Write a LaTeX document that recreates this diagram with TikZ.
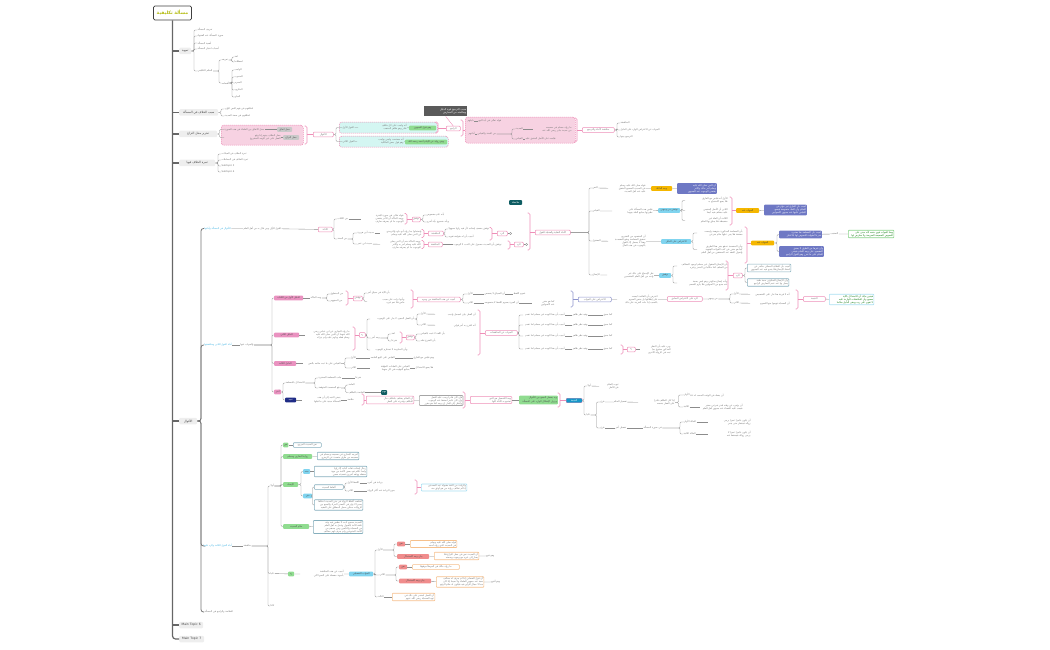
\documentclass[tikz,border=0pt]{standalone}
\usepackage{fontspec}
\setmainfont{DejaVu Sans}
\newfontfamily\arabicfont[Script=Arabic]{DejaVu Sans}
\TeXXeTstate=1
\newcommand\ar[1]{\beginR#1\endR}

\definecolor{pinkl}{HTML}{EE8FB8}
\definecolor{pinkf}{HTML}{EA92C0}
\definecolor{pinkg}{HTML}{F7D2E2}
\definecolor{cyang}{HTML}{D4F6F2}
\definecolor{orgc}{HTML}{F5B700}
\definecolor{purc}{HTML}{6E78C4}
\definecolor{purl}{HTML}{8E94CC}
\definecolor{cyanc}{HTML}{80D4EF}
\definecolor{tealc}{HTML}{86AFBD}
\definecolor{greenc}{HTML}{90DC90}
\definecolor{redc}{HTML}{F08C8C}
\definecolor{orbc}{HTML}{F6C08C}
\definecolor{lcbc}{HTML}{A9DFF2}
\definecolor{gnbc}{HTML}{8CD48C}
\definecolor{dtlc}{HTML}{0E5C62}
\definecolor{navc}{HTML}{1F2C86}
\definecolor{bluec}{HTML}{1597C8}
\definecolor{callc}{HTML}{5A5A5A}
\definecolor{greyc}{HTML}{EEEEEE}
\definecolor{gryc}{HTML}{C9C9C9}
\definecolor{cytext}{HTML}{3AB0E2}
\definecolor{rootc}{HTML}{B4BC12}

% grey bracket from a parent to its children
\newcommand\brtree[3]{%
  \coordinate (brx) at (#2,0);
  \foreach \ch in {#3}{\draw[ln] (#1.east) -- (#1.east -| brx) |- (\ch.west);}}
% coloured group bracket pointing at one node
\newcommand\pkbr[5][pinkl]{%
  \coordinate (brx) at (#2,0);
  \draw[gb, draw=#1] ({#2-2.5},#3) -| ({#2},{(#3+#4)/2}) |- ({#2-2.5},#4);
  \draw[gb, draw=#1] (#5.west -| brx) -- (#5.west);}

\begin{document}
\begin{tikzpicture}[x=1pt, y=-1pt,
  tx/.style={anchor=west, inner sep=0.4pt, align=right, text=black!55,
             font=\arabicfont\fontsize{2.4}{3}\selectfont},
  bx/.style={tx, inner sep=0.8pt, rounded corners=0.8pt, minimum height=4.6pt, align=center},
  topic/.style={anchor=west, fill=greyc, rounded corners=1.2pt, inner sep=1pt,
                minimum height=6.5pt, text=black!75, font=\arabicfont\fontsize{3}{3.6}\selectfont},
  root/.style={draw=black!75, line width=0.8pt, fill=white, rounded corners=1.5pt,
               minimum width=33pt, minimum height=14pt, text=rootc,
               font=\arabicfont\bfseries\fontsize{4.6}{5}\selectfont},
  pkn/.style={bx, draw=pinkl, line width=0.5pt, fill=white},
  pkf/.style={bx, fill=pinkf, text=black!70},
  org/.style={bx, fill=orgc, text=black!75},
  pur/.style={bx, fill=purc, text=white, align=right},
  purn/.style={bx, draw=purl, line width=0.5pt, fill=white},
  cyb/.style={bx, fill=cyanc, text=black!70},
  tlb/.style={bx, draw=tealc, line width=0.6pt, fill=white, align=right},
  grb/.style={bx, fill=greenc, text=black!70},
  rdb/.style={bx, fill=redc, text=black!70},
  orb/.style={bx, draw=orbc, line width=0.6pt, fill=white, align=right},
  lcb/.style={bx, draw=lcbc, line width=0.6pt, fill=white, align=right},
  gnb/.style={bx, draw=gnbc, line width=0.6pt, fill=white, align=right, text=green!45!black},
  gyb/.style={bx, draw=black!35, line width=0.7pt, fill=white, align=right},
  dtl/.style={bx, fill=dtlc, text=white},
  nav/.style={bx, fill=navc, text=white},
  blu/.style={bx, fill=bluec, draw=pinkl, line width=0.3pt, text=white},
  gry/.style={bx, fill=gryc, text=black!70},
  call/.style={anchor=north west, fill=callc, text=white, inner sep=1pt, align=right,
               font=\arabicfont\fontsize{2.6}{3.2}\selectfont},
  grp/.style={draw=pinkl, dash pattern=on 1.2pt off 0.8pt, line width=0.5pt,
              rounded corners=2.5pt, anchor=north west, inner sep=0pt},
  dot/.style={circle, draw=black!45, line width=0.3pt, inner sep=0pt, minimum size=2.4pt},
  ln/.style={draw=black!45, line width=0.35pt, rounded corners=1.2pt},
  gb/.style={line width=0.6pt, rounded corners=1.5pt},
  sub/.style={draw=black!55, line width=0.8pt, rounded corners=2.5pt},
  spine/.style={draw=black!60, line width=1.2pt, rounded corners=3pt}
]
\useasboundingbox (0,0) rectangle (1050,650);

% root and main topics
\node[root] (root) at (172.5,13) {\ar{مسألة تكليفية}};
\node[topic, minimum width=12pt] (t1) at (179,51) {\ar{تمهيد}};
\node[topic, minimum width=39pt] (t2) at (179,112.5) {\ar{سبب الخلاف في المسألة}};
\node[topic, minimum width=38pt] (t3) at (179,134) {\ar{تحرير محل النزاع}};
\node[topic, minimum width=36pt] (t4) at (179,163) {\ar{ثمرة الخلاف فيها}};
\node[topic, minimum width=18pt] (t5) at (179,421) {\ar{الأقوال}};
\node[topic, minimum width=24pt] (t6) at (179,625) {Main Topic 6};
\node[topic, minimum width=25pt] (t7) at (179,639) {Main Topic 7};
\draw[spine] (root.south) |- (t7.west);
\foreach \t in {t1,t2,t3,t4,t5,t6}
  \draw[spine] (\t.west -| root.south) -- (\t.west);

% topic 1
\node[tx] (t1a) at (197,30) {\ar{تعريف المسألة}};
\node[tx] (t1b) at (197,36) {\ar{صورة المسألة عند الفقهاء}};
\node[tx] (t1c) at (197,43) {\ar{أهمية المسألة}};
\node[tx] (t1d) at (197,49) {\ar{أسباب اختيار المسألة}};
\node[tx] (t1e) at (197,71) {\ar{الحكم التكليفي}};
\brtree{t1}{194}{t1a,t1b,t1c,t1d,t1e}
\node[tx] (t1f) at (221,60) {\ar{تعريفه}};
\node[tx] (t1g) at (221,83) {\ar{أقسامه}};
\brtree{t1e}{219}{t1f,t1g}
\node[tx] (t1h) at (234,57) {\ar{لغة}};
\node[tx] (t1i) at (234,62) {\ar{اصطلاحا}};
\brtree{t1f}{232}{t1h,t1i}
\node[tx] (t1j) at (234,70) {\ar{الواجب}};
\node[tx] (t1k) at (234,77) {\ar{المندوب}};
\node[tx] (t1l) at (234,83) {\ar{المحرم}};
\node[tx] (t1m) at (234,90) {\ar{المكروه}};
\node[tx] (t1n) at (234,97) {\ar{المباح}};
\brtree{t1g}{232}{t1j,t1k,t1l,t1m,t1n}

% topic 2
\node[tx] (t2a) at (224,109) {\ar{اختلافهم في فهم النص الوارد}};
\node[tx] (t2b) at (224,116) {\ar{اختلافهم في صحة الحديث}};
\brtree{t2}{221}{t2a,t2b}

% topic 3
\node[grp, fill=pinkg, minimum width=82pt, minimum height=20pt] (g3) at (221,125) {};
\node[tx] (t3a) at (224,129.5) {\ar{محل الاتفاق بين العلماء في هذه الصورة}};
\node[tx, text width=56pt] (t3b) at (224,137.5) {\ar{محل الخلاف بينهم إذا وقع الفعل على غير الوجه المشروع}};
\node[gry, minimum width=15pt] (t3c) at (277,129.5) {\ar{محل اتفاق}};
\node[gry, minimum width=16pt] (t3d) at (283,137.5) {\ar{محل النزاع}};
\brtree{t3}{219.5}{t3a,t3b}
\draw[ln] (t3a) -- (t3c);
\draw[ln] (t3b) -- (t3d);
\node[pkn, minimum width=20pt] (n3a) at (313,134.5) {\ar{الأقوال}};
\pkbr{307}{126}{144}{n3a}
\node[grp, fill=cyang, minimum width=98pt, minimum height=11pt] (g3a) at (339,122) {};
\node[grp, fill=cyang, minimum width=109pt, minimum height=11pt] (g3b) at (339,136) {};
\node[tx] (n3b1) at (342,127.5) {\ar{القول الأول}};
\node[tx, text width=48pt] (n3b2) at (358,127.5) {\ar{أنه واجب على كل مكلف قادر وهو ظاهر المذهب}};
\node[grb, minimum width=27pt] (n3b3) at (409,128) {\ar{وهو قول الجمهور}};
\node[tx] (n3c1) at (342,141.5) {\ar{القول الثاني}};
\node[tx, text width=46pt] (n3c2) at (357,141.5) {\ar{أنه مستحب وليس بواجب وهو قول بعض المالكية}};
\node[grb, minimum width=42pt] (n3c3) at (405,142) {\ar{وهو رواية عن الإمام أحمد رحمه الله}};
\brtree{n3a}{336}{n3b1,n3c1}
\draw[ln] (n3b1) -- (n3b2) -- (n3b3);
\draw[ln] (n3c1) -- (n3c2) -- (n3c3);
\node[pkn, minimum width=14pt] (n3d) at (446,128.5) {\ar{الراجح}};
\pkbr{438}{122}{133}{n3d}
\node[call, minimum width=43pt, minimum height=10pt, text width=41pt] (cl) at (424,106)
  {\ar{سبب الترجيح قوة الدليل}\\\ar{وسلامته من المعارض}};
\draw[gb, draw=pinkl, line width=0.4pt] (cl.south) -- (n3d.north);
\node[grp, fill=pinkg, minimum width=110pt, minimum height=26pt] (g3c) at (465,117) {};
\pkbr{463}{120}{136}{g3c}
\node[tx] (n3e1) at (467,121) {\ar{دليلهم}};
\node[tx] (n3e2) at (478,121) {\ar{قوله تعالى في آية البيع}};
\node[tx] (n3f1) at (468,134) {\ar{أدلتهم}};
\node[tx] (n3f2) at (477,134) {\ar{من السنة والقياس}};
\node[tx] (n3g1) at (515,129) {\ar{الحديث}};
\node[tx, text width=38pt] (n3g2) at (533,129) {\ar{ما رواه مسلم في صحيحه من حديث جابر رضي الله عنه}};
\node[tx] (n3h1) at (515,139) {\ar{القياس}};
\node[tx] (n3h2) at (525,139) {\ar{قياسه على الأصل المتفق عليه}};
\draw[ln] (n3e1) -- (n3e2);
\draw[ln] (n3f1) -- (n3f2);
\brtree{n3f2}{512}{n3g1,n3h1}
\draw[ln] (n3g1) -- (n3g2);
\draw[ln] (n3h1) -- (n3h2);
\node[pkn, minimum width=32pt] (n3i) at (582,130) {\ar{مناقشة الأدلة والترجيح}};
\pkbr{577}{118}{142}{n3i}
\node[tx] (n3j) at (620,123) {\ar{المناقشة}};
\node[tx] (n3k) at (620,130) {\ar{الجواب عن الاعتراض الوارد على الدليل}};
\node[tx] (n3l) at (620,137) {\ar{الترجيح بينها}};
\brtree{n3i}{617}{n3j,n3k,n3l}

% topic 4
\node[tx] (t4a) at (221,154) {\ar{ثمرة الخلاف في العبادات}};
\node[tx] (t4b) at (221,160) {\ar{ثمرة الخلاف في المعاملات}};
\node[tx] (t4c) at (221,166) {Subtopic 3};
\node[tx] (t4d) at (221,172) {Subtopic 4};
\brtree{t4}{218}{t4a,t4b,t4c,t4d}

% topic 5: four branches
\node[tx, text=cytext] (b1) at (204,228.5) {\ar{الأقوال في المسألة وأدلتها}};
\node[tx, text=cytext] (b2) at (204,345) {\ar{أدلة القول الثاني ومناقشتها}};
\node[tx, text=cytext] (b3) at (203,546) {\ar{أدلة القول الثالث والرد عليها}};
\node[tx] (b4) at (204,612) {\ar{الخلاصة والراجح في المسألة}};
\coordinate (sx) at (201,0);
\foreach \b in {b1,b2,b3,b4}
  \draw[sub] (t5.east) -- (t5.east -| sx) |- (\b.west);

% branch 1
\node[tx] (b1a) at (243,228.5) {\ar{القول الأول ومن قال به من أهل العلم}};
\node[pkn, minimum width=14pt] (n1) at (318,229.5) {\ar{الأدلة}};
\draw[ln] (b1) -- (b1a) -- (n1);
\node[tx] (a1) at (337,219) {\ar{من الكتاب}};
\node[tx] (a2) at (337,239) {\ar{من السنة}};
\brtree{n1}{334}{a1,a2}
\node[tx, text width=42pt] (a1b) at (361,219) {\ar{قوله تعالى في سورة البقرة ووجه الدلالة أن الأمر يقتضي الوجوب ما لم يصرفه صارف}};
\draw[ln] (a1) -- (a1b);
\node[pkn, minimum width=8pt] (a1c) at (412,219.5) {\ar{نوقش}};
\pkbr{407}{213.5}{224}{a1c}
\node[tx] (a1d) at (426,215) {\ar{بأنه عام مخصوص}};
\node[tx] (a1e) at (426,222) {\ar{وبأنه منسوخ بآية أخرى}};
\brtree{a1c}{423}{a1d,a1e}
\node[tx] (a2a) at (357,233) {\ar{حديث أبي هريرة}};
\node[tx] (a2b) at (357,244) {\ar{حديث ابن عمر}};
\brtree{a2}{353}{a2a,a2b}
\node[tx, text width=41pt] (a2c) at (380,233) {\ar{واستدلوا بما رواه أبو داود والترمذي عن النبي صلى الله عليه وسلم}};
\node[tx, text width=40pt] (a2d) at (380,244.5) {\ar{ووجه الدلالة منه أن النبي صلى الله عليه وسلم أمر به والأمر للوجوب ما لم يصرفه صارف}};
\draw[ln] (a2a) -- (a2c);
\draw[ln] (a2b) -- (a2d);
\node[pkn, minimum width=15pt] (a2e) at (428,233.5) {\ar{المناقشة}};
\pkbr{424}{229.5}{237.5}{a2e}
\node[tx] (a2f) at (448,229) {\ar{نوقش بضعف إسناده لأن فيه راويا مجهولا}};
\node[tx] (a2g) at (448,237) {\ar{أجيب بأن له شواهد تقويه}};
\brtree{a2e}{445}{a2f,a2g}
\node[pkn, minimum width=10pt] (a2h) at (497,233.5) {\ar{الرد}};
\pkbr{492}{227.5}{240}{a2h}
\node[dot] (a2i) at (510.5,233.5) {};
\draw[ln] (a2h) -- (a2i);
\node[pkn, minimum width=14pt] (a2k) at (428,244.5) {\ar{المناقشة}};
\pkbr{424}{240.5}{248.5}{a2k}
\node[tx] (a2l) at (453,244.5) {\ar{نوقش بأن الحديث محمول على الندب لا الوجوب}};
\draw[ln] (a2k) -- (a2l);
\node[pkn, minimum width=9pt] (a2m) at (514,244.5) {\ar{الرد}};
\pkbr{510}{241}{249}{a2m}
\node[dot] (a2n) at (526.5,244.5) {};
\draw[ln] (a2m) -- (a2n);
\node[pkn, minimum width=35pt] (n2) at (535,232.5) {\ar{الأدلة النقلية والعقلية للقول}};
\pkbr{530}{213}{250}{n2}
\node[dtl, minimum width=13pt] (ft) at (509,202.5) {\ar{ملاحظة}};

\node[tx] (d1) at (592,188) {\ar{النص}};
\node[tx] (d2) at (592,211) {\ar{القياس}};
\node[tx] (d3) at (592,241) {\ar{المعقول}};
\node[tx] (d4) at (592,275) {\ar{الإجماع}};
\brtree{n2}{589}{d1,d2,d3,d4}
\node[tx, text width=37pt] (d1a) at (608,188.5) {\ar{قوله صلى الله عليه وسلم في الحديث الصحيح المتفق عليه عند أهل الحديث}};
\node[org, minimum width=21pt] (d1b) at (651,188.5) {\ar{وجه الدلالة}};
\node[pur, text width=38pt] (d1c) at (677,188.5) {\ar{أن النبي صلى الله عليه وسلم أمر بذلك والأمر يقتضي الوجوب عند الجمهور}};
\draw[ln] (d1) -- (d1a) -- (d1b) -- (d1c);
\node[tx, text width=40pt] (d2a) at (612,211) {\ar{قياس هذه المسألة على نظيرتها بجامع العلة بينهما}};
\node[cyb, minimum width=22pt] (d2b) at (658,210.5) {\ar{نوقش من وجهين}};
\draw[ln] (d2) -- (d2a) -- (d2b);
\node[tx, text width=42pt] (d2c) at (685,200.5) {\ar{الأول أنه قياس مع الفارق فلا يصح الاحتجاج به}};
\node[tx, text width=42pt] (d2d) at (685,210.5) {\ar{الثاني أن الأصل المقيس عليه مختلف فيه أيضا}};
\node[tx, text width=42pt] (d2e) at (685,220.5) {\ar{الثالث أن العلة غير منضبطة فلا يعلق بها الحكم}};
\brtree{d2b}{682}{d2c,d2d,d2e}
\node[org, minimum width=23pt] (d2f) at (736,210.5) {\ar{الجواب عنه}};
\pkbr{732}{197}{225}{d2f}
\node[pur, text width=41pt] (d2g) at (764,210) {\ar{أجيب بأن الفارق غير مؤثر في الحكم وأن العلة منصوصة فيصح القياس عليها عند جمهور الأصوليين}};
\draw[ln] (d2f) -- (d2g);
\node[tx, text width=37pt] (d3a) at (608,241.5) {\ar{أن المقصود من التشريع تحقيق المصلحة ودفع المفسدة وهذا لا يحصل إلا بالقول بالوجوب في هذه الحال}};
\node[cyb, minimum width=30pt] (d3b) at (661,241.5) {\ar{الاعتراض على الدليل}};
\draw[ln] (d3) -- (d3a) -- (d3b);
\node[tx, text width=45pt] (d3c) at (697,233) {\ar{بأن المصلحة المذكورة متوهمة وليست محققة فلا يبنى عليها حكم شرعي}};
\node[tx, text width=45pt] (d3d) at (697,249.5) {\ar{وبأن المفسدة تندفع بغير هذا الطريق كما هو مقرر في كتب القواعد الفقهية وأصول الفقه عند المحققين من أهل العلم}};
\brtree{d3b}{693}{d3c,d3d}
\node[org, minimum width=23pt] (d3e) at (751,243) {\ar{الجواب عنه}};
\pkbr{747}{227}{263}{d3e}
\node[pur, text width=41pt] (d3f) at (779,234.5) {\ar{أجيب بأن المصلحة هنا معتبرة شرعا لشهادة النصوص لها بالاعتبار}};
\node[pur, text width=43pt] (d3g) at (779,251.5) {\ar{وأن غيرها من الطرق لا يحقق المقصود على وجه التمام فيبقى الحكم على ما تقرر وهو القول الراجح}};
\brtree{d3e}{777}{d3f,d3g}
\node[tx] (d3h) at (830,234) {\ar{التعقيب}};
\node[gnb, text width=44pt] (d3i) at (848,234) {\ar{وهذا الجواب قوي متجه لأنه مبني على النصوص الصحيحة الصريحة ولا معارض لها}};
\draw[ln] (d3f) -- (d3h) -- (d3i);
\node[tx, text width=46pt] (d4a) at (607,275) {\ar{نقل الإجماع على ذلك غير واحد من أهل العلم المتقدمين}};
\node[cyb, minimum width=12pt] (d4b) at (659,275.5) {\ar{نوقش}};
\draw[ln] (d4) -- (d4a) -- (d4b);
\node[tx, text width=50pt] (d4c) at (677,266) {\ar{بأن الإجماع المنقول غير مسلم لوجود المخالف من السلف كما حكاه ابن المنذر وغيره}};
\node[tx, text width=50pt] (d4d) at (677,283) {\ar{وبأنه إجماع سكوتي وهو ليس بحجة عند جمع من الأصوليين فلا يلزم الخصم}};
\brtree{d4b}{673}{d4c,d4d}
\node[pkn, minimum width=9pt] (d4e) at (733,275.5) {\ar{الرد}};
\pkbr{728}{261}{290}{d4e}
\node[tlb, text width=42pt] (d4f) at (747,268) {\ar{أجيب بأن الخلاف المحكي متأخر عن انعقاد الإجماع فلا يقدح فيه عند الجمهور}};
\node[tlb, text width=40pt] (d4g) at (747,282.5) {\ar{وأن الإجماع السكوتي حجة ظنية يعمل بها عند عدم المعارض الراجح}};
\brtree{d4e}{745}{d4f,d4g}

% branch 2
\node[tx] (b2a) at (240,345) {\ar{والجواب عنها}};
\draw[ln] (b2) -- (b2a);
\node[pkf, minimum width=29pt] (e1) at (274,298) {\ar{الدليل الأول من الكتاب}};
\node[pkf, minimum width=25pt] (e2) at (274,335) {\ar{الدليل الثاني}};
\node[pkf, minimum width=22pt] (e3) at (274,363.5) {\ar{الدليل الثالث}};
\node[pkf, minimum width=7pt] (e4) at (274,392) {\ar{آخر}};
\brtree{b2a}{272}{e1,e2,e3,e4}

\node[tx] (e1a) at (310,298) {\ar{وجه الدلالة}};
\draw[ln] (e1) -- (e1a);
\node[tx] (e1b) at (330,294) {\ar{من المنطوق}};
\node[tx] (e1c) at (330,301) {\ar{من المفهوم}};
\brtree{e1a}{327}{e1b,e1c}
\node[pkn, minimum width=9pt] (e1d) at (353,298.5) {\ar{نوقش}};
\pkbr{348}{291}{305}{e1d}
\node[tx] (e1e) at (367,293) {\ar{بأن الآية في سياق آخر}};
\node[tx, text width=37pt] (e1f) at (367,301.5) {\ar{وبأنها نزلت على سبب خاص فلا تعم غيره}};
\brtree{e1d}{364}{e1e,e1f}
\node[pkn, minimum width=43pt] (e1g) at (417,299.5) {\ar{أجيب عن هذه المناقشة من وجوه}};
\pkbr{413}{290}{308}{e1g}
\node[tx] (e1h) at (467,294) {\ar{الأول}};
\node[tx] (e1h2) at (484,294) {\ar{أن السياق لا يخصص}};
\node[tx] (e1h3) at (513,294) {\ar{عموم اللفظ}};
\node[tx] (e1i) at (467,303) {\ar{الثاني}};
\node[tx] (e1i2) at (484,303) {\ar{أن العبرة بعموم اللفظ لا بخصوصه}};
\node[tx, text width=22pt] (e1i3) at (532,303) {\ar{كما هو مقرر عند الأصوليين}};
\brtree{e1g}{463}{e1h,e1i}
\draw[ln] (e1h) -- (e1h2) -- (e1h3);
\draw[ln] (e1i) -- (e1i2) -- (e1i3);
\node[purn, minimum width=33pt] (e1j) at (578,299.5) {\ar{الاعتراض على الجواب}};
\pkbr[purl]{573}{291}{307}{e1j}
\node[tx, text width=40pt] (e1k) at (617,299.5) {\ar{اعترض بأن القاعدة ليست على إطلاقها بل يخص العموم بالسبب إذا دلت القرينة على ذلك}};
\node[pkn, minimum width=35pt] (e1l) at (667,299) {\ar{الرد على الاعتراض السابق}};
\node[tx] (e1m) at (707,299) {\ar{من وجهين}};
\draw[ln] (e1j) -- (e1k) -- (e1l) -- (e1m);
\node[tx] (e1n) at (733,294) {\ar{الأول}};
\node[tx, text width=39pt] (e1n2) at (750,294.5) {\ar{أنه لا قرينة هنا تدل على التخصيص}};
\node[tx] (e1o) at (733,303) {\ar{الثاني}};
\node[tx, text width=39pt] (e1o2) at (750,303.5) {\ar{أن الصحابة فهموا منها العموم}};
\brtree{e1m}{730}{e1n,e1o}
\draw[ln] (e1n) -- (e1n2);
\draw[ln] (e1o) -- (e1o2);
\node[pkn, minimum width=22pt] (e1p) at (803,299) {\ar{النتيجة}};
\pkbr{798}{290}{309}{e1p}
\node[lcb, text width=43pt, text=green!45!black] (e1q) at (829,299.5) {\ar{فيتبين بذلك أن الاستدلال بالآية صحيح وأن المناقشات الواردة عليه لا تقوى على رده ويبقى الدليل سالما}};
\draw[ln] (e1p) -- (e1q);

\node[tx, text width=44pt] (e2a) at (305,335) {\ar{ما رواه البخاري عن ابن عباس رضي الله عنهما أن النبي صلى الله عليه وسلم فعله وداوم عليه ولم يتركه}};
\draw[ln] (e2) -- (e2a);
\node[pkn, minimum width=6pt] (e2b) at (359,335) {\ar{رد}};
\pkbr{355}{327}{350}{e2b}
\node[tx, text width=44pt] (f1) at (370,319) {\ar{بأن الفعل المجرد لا يدل على الوجوب}};
\node[tx] (f2) at (371,338) {\ar{وجه آخر}};
\node[tx, text width=37pt] (f3) at (370,350) {\ar{وبأن المداومة لا تستلزم الوجوب}};
\brtree{e2b}{367}{f1,f2,f3}
\node[tx] (f1a) at (420,314) {\ar{الأول}};
\node[tx, text width=40pt] (f1a2) at (435,314.5) {\ar{أن الفعل بيان لمجمل واجب}};
\node[tx] (f1b) at (420,325) {\ar{الثاني}};
\node[tx, text width=40pt] (f1b2) at (435,325.5) {\ar{أنه اقترن به أمر قولي}};
\brtree{f1}{417}{f1a,f1b}
\draw[ln] (f1a) -- (f1a2);
\draw[ln] (f1b) -- (f1b2);
\node[tx] (f2a) at (391,334) {\ar{لغة}};
\node[tx] (f2b) at (391,341) {\ar{شرعا}};
\brtree{f2}{388}{f2a,f2b}
\node[pkn, minimum width=8pt] (f2c) at (406,337.5) {\ar{نوقش}};
\pkbr{402}{332}{343}{f2c}
\node[tx] (f2d) at (420,334) {\ar{بأن اللغة لا تثبت بالقياس}};
\node[tx] (f2e) at (420,341) {\ar{بأن الشرع نقله}};
\brtree{f2c}{416}{f2d,f2e}
\node[pkn, minimum width=32pt] (e2c) at (485,333) {\ar{الجواب عن المناقشات}};
\pkbr{480}{310}{355}{e2c}
\foreach \n/\y in {e2d/315,e2e/325,e2f/336,e2g/349}{
  \node[tx, text width=41pt] (\n) at (523,\y) {\ar{أجيب بأن هذا الوجه غير مسلم لما تقدم}};
  \node[tx] (\n2) at (572,\y) {\ar{وفيه نظر ظاهر}};
  \node[tx] (\n3) at (603,\y) {\ar{كما سبق}};
  \draw[ln] (\n) -- (\n2) -- (\n3);
}
\brtree{e2c}{519}{e2d,e2e,e2f,e2g}
\node[pkn, minimum width=8pt] (e2h) at (627,349.5) {\ar{رد}};
\pkbr{623}{345}{354}{e2h}
\node[tx, text width=30pt] (e2i) at (640,349.5) {\ar{ويرد عليه بأن النظر المذكور مدفوع بما ثبت في الرواية الأخرى}};
\draw[ln] (e2h) -- (e2i);

\node[tx, text width=37pt] (e3a) at (303,363.5) {\ar{القياس على ما ثبت حكمه بالنص}};
\draw[ln] (e3) -- (e3a);
\node[tx] (e3b) at (350,358) {\ar{الأول}};
\node[tx] (e3b2) at (370,358) {\ar{القياس على البيع الفاسد}};
\node[tx] (e3b3) at (413,358) {\ar{وهو قياس مع الفارق}};
\node[tx] (e3c) at (350,368) {\ar{الثاني}};
\node[tx, text width=39pt] (e3c2) at (370,368) {\ar{القياس على العبادات المؤقتة بجامع التوقيت في كل منهما}};
\node[tx] (e3c3) at (415,368) {\ar{فلا يصح الاستدلال}};
\brtree{e3a}{345}{e3b,e3c}
\draw[ln] (e3b) -- (e3b2) -- (e3b3);
\draw[ln] (e3c) -- (e3c2) -- (e3c3);

\node[tx] (g1) at (285,383) {\ar{الاستدلال بالمصلحة}};
\node[nav, minimum width=11pt] (g2) at (285,400) {\ar{تنبيه}};
\brtree{e4}{283}{g1,g2}
\node[tx] (g1a) at (318,378) {\ar{جلب المصلحة المعتبرة}};
\node[tx] (g1a2) at (355,378) {\ar{شرعا}};
\node[tx] (g1b) at (318,388) {\ar{دفع المفسدة المتوقعة}};
\brtree{g1}{315}{g1a,g1b}
\draw[ln] (g1a) -- (g1a2);
\node[tx] (g1c) at (348,385) {\ar{العامة}};
\node[tx] (g1d) at (348,392.5) {\ar{الخاصة بالمكلف}};
\brtree{g1b}{345.5}{g1c,g1d}
\node[dtl, minimum width=6pt] (g1e) at (381,392.5) {\ar{مهم}};
\draw[ln] (g1d) -- (g1e);
\node[tx, text width=38pt] (g2a) at (302,400) {\ar{ينبغي التنبه إلى أن هذه المسألة مبنية على ما قبلها}};
\node[tx] (g2b) at (347,400) {\ar{خلاصة}};
\draw[ln] (g2) -- (g2a) -- (g2b);
\node[pkn, text width=46pt, align=right] (g2c) at (366,400) {\ar{أن الحكم يختلف باختلاف حال المكلف وقدرته على الفعل}};
\pkbr{364}{394}{405}{g2c}
\node[gyb, text width=42pt] (g2d) at (419,400.5) {\ar{فإن كان قادرا وجب عليه الفعل وإن كان عاجزا سقط عنه الوجوب وانتقل إلى البدل إن وجد كما هو مقرر}};
\draw[ln] (g2c) -- (g2d);
\node[pkn, text width=40pt, align=right] (g2e) at (470,400) {\ar{وهذا التفصيل هو الذي تجتمع به الأدلة كلها}};
\pkbr{465}{392}{408}{g2e}
\node[grb, text width=37pt, align=right] (g2f) at (519,400) {\ar{وبه يحصل الجمع بين الأقوال ويزول الإشكال الوارد على المسألة}};
\draw[ln] (g2e) -- (g2f);
\node[blu, minimum width=16pt] (g2g) at (566,400.5) {\ar{النتيجة}};
\pkbr{560}{393}{407}{g2g}
\node[tx] (h1) at (587,386) {\ar{أولا}};
\node[tx, text width=19pt] (h1a) at (599,386.5) {\ar{ثبوت الحكم في الأصل}};
\node[tx] (h2) at (586,415) {\ar{ثانيا}};
\brtree{g2g}{584}{h1,h2}
\draw[ln] (h1) -- (h1a);
\node[tx] (i1) at (600,402) {\ar{فرع}};
\node[tx] (i1a) at (613,402) {\ar{تفصيل الحكم}};
\node[tx, text width=36pt] (i1b) at (638,402.5) {\ar{إذا كان المكلف قادرا على الفعل بنفسه}};
\node[tx] (i2) at (600,428) {\ar{فرع}};
\node[tx] (i2a) at (615,428) {\ar{تفصيل آخر}};
\node[tx] (i2b) at (643,428) {\ar{في صورة المسألة}};
\brtree{h2}{596.5}{i1,i2}
\draw[ln] (i1) -- (i1a) -- (i1b);
\draw[ln] (i2) -- (i2a) -- (i2b);
\node[tx] (i1c) at (683,395) {\ar{الأولى}};
\node[tx, text width=30pt] (i1c2) at (693,395.5) {\ar{أن يفعله في الوقت المحدد له}};
\node[tx] (i1d) at (683,407) {\ar{الثانية}};
\node[tx, text width=42pt] (i1d2) at (700,407) {\ar{أن يؤخره عن وقته لعذر شرعي معتبر فيجب عليه القضاء عند جمهور أهل العلم}};
\brtree{i1b}{678.5}{i1c,i1d}
\draw[ln] (i1c) -- (i1c2);
\draw[ln] (i1d) -- (i1d2);
\node[tx] (i2c) at (683,422) {\ar{الحالة الأولى}};
\node[tx, text width=42pt] (i2c2) at (708,422) {\ar{أن يكون عاجزا عجزا يرجى زواله فينتظر حتى يقدر}};
\node[tx] (i2d) at (683,434) {\ar{الحالة الثانية}};
\node[tx, text width=42pt] (i2d2) at (708,434) {\ar{أن يكون عاجزا عجزا لا يرجى زواله فيسقط عنه}};
\brtree{i2b}{680}{i2c,i2d}
\draw[ln] (i2c) -- (i2c2);
\draw[ln] (i2d) -- (i2d2);

% branch 3
\node[tx] (b3a) at (243,546) {\ar{مناقشة}};
\draw[ln] (b3) -- (b3a);
\node[tx] (j1) at (270,486) {\ar{أولا}};
\node[tx] (j2) at (270,573.5) {\ar{ثانيا}};
\node[tx] (j3) at (270,606) {\ar{ثالثا}};
\brtree{b3a}{268}{j1,j2,j3}
\node[grb, minimum width=5pt] (k1) at (283,445) {\ar{نص}};
\node[grb, minimum width=29pt] (k2) at (283,456.5) {\ar{رواية البخاري ومسلم}};
\node[grb, minimum width=15pt] (k3) at (283,484.5) {\ar{الإسناد}};
\node[grb, minimum width=26pt] (k4) at (283,526.5) {\ar{حكم الحديث}};
\brtree{j1}{281}{k1,k2,k3,k4}
\node[tlb, minimum width=28pt] (k1a) at (293,445) {\ar{نص الحديث المروي}};
\node[tlb, text width=40pt] (k2a) at (317,456) {\ar{أخرجه البخاري في صحيحه ومسلم في صحيحه من طرق متعددة عن الزهري}};
\node[tlb, text width=48pt] (k4a) at (313,527) {\ar{الحديث صحيح ثابت لا مطعن فيه وقد تلقته الأمة بالقبول وعمل به أهل العلم من الصحابة والتابعين ومن بعدهم من الأئمة المتبوعين ولم يعرف لهم مخالف}};
\draw[ln] (k1) -- (k1a);
\draw[ln] (k2) -- (k2a);
\draw[ln] (k4) -- (k4a);
\node[cyb, minimum width=7pt] (l1) at (303,471.5) {\ar{سند}};
\node[cyb, minimum width=9pt] (l2) at (303,496) {\ar{متن}};
\brtree{k3}{301}{l1,l2}
\node[tlb, text width=51pt] (l1a) at (314,471.5) {\ar{رجال إسناده ثقات أثبات إلا راويا واحدا تكلم فيه بعض الأئمة من جهة حفظه ووثقه آخرون فحديثه حسن}};
\draw[ln] (l1) -- (l1a);
\node[tlb, minimum width=29pt] (m1) at (314,487) {\ar{ألفاظ الحديث}};
\node[tlb, text width=47pt] (m2) at (314,505) {\ar{اختلفت ألفاظ الرواة في متن الحديث اختلافا يسيرا لا يؤثر في المعنى المراد والجمع بين الروايات ممكن بحمل المطلق على المقيد}};
\brtree{l2}{312.5}{m1,m2}
\node[tx] (m1a) at (347,483) {\ar{اللفظ الأول}};
\node[tx] (m1a2) at (367,483) {\ar{بزيادة في آخره}};
\node[tx] (m1b) at (347,491) {\ar{الثاني}};
\node[tx] (m1b2) at (367,491) {\ar{بدون الزيادة عند أكثر الرواة}};
\brtree{m1}{345}{m1a,m1b}
\draw[ln] (m1a) -- (m1a2);
\draw[ln] (m1b) -- (m1b2);
\node[lcb, text width=44pt] (m1c) at (421,487.5) {\ar{والزيادة من الثقة مقبولة عند المحدثين إذا لم تخالف رواية من هو أوثق منه}};
\pkbr{417}{480}{494}{m1c}

\node[grb, minimum width=6pt] (j2a) at (288,574) {\ar{رد}};
\node[tx, text width=43pt] (j2b) at (300,574) {\ar{أجيب عن هذه المناقشة بأجوبة مفصلة على النحو الآتي}};
\node[cyb, minimum width=24pt] (j2c) at (349,574) {\ar{الجواب التفصيلي}};
\draw[ln] (j2) -- (j2a) -- (j2b) -- (j2c);
\node[tx] (o1) at (377,550) {\ar{الأول}};
\node[tx] (o2) at (379,575) {\ar{الثاني}};
\node[tx] (o3) at (377,597) {\ar{الثالث}};
\brtree{j2c}{375}{o1,o2,o3}
\node[rdb, minimum width=8pt] (o1a) at (397,544) {\ar{نص}};
\node[rdb, minimum width=32pt] (o1b) at (397,556.5) {\ar{بيان وجه الاستدلال}};
\brtree{o1}{394}{o1a,o1b}
\node[orb, text width=45pt] (o1a2) at (410,544) {\ar{قوله صلى الله عليه وسلم في الحديث الذي رواه أحمد}};
\node[orb, text width=43pt] (o1b2) at (434,556) {\ar{أن الحديث نص في محل النزاع فلا يصار إلى غيره مع وجوده وصحته}};
\node[tx] (o1b3) at (485,556) {\ar{وهو قوي}};
\draw[ln] (o1a) -- (o1a2);
\draw[ln] (o1b) -- (o1b2) -- (o1b3);
\node[rdb, minimum width=8pt] (o2a) at (399,567) {\ar{نص}};
\node[rdb, minimum width=32pt] (o2b) at (399,581) {\ar{بيان وجه الاستدلال}};
\brtree{o2}{396}{o2a,o2b}
\node[orb, minimum width=47pt] (o2a2) at (412,567) {\ar{ما رواه مالك في الموطأ موقوفا}};
\node[orb, text width=46pt] (o2b2) at (436,582) {\ar{أن قول الصحابي إذا لم يعرف له مخالف حجة عند جمهور العلماء ولا سيما إذا كان مما لا مجال للرأي فيه فيكون له حكم الرفع}};
\node[tx] (o2b3) at (490,582) {\ar{وهو أقوى}};
\draw[ln] (o2a) -- (o2a2);
\draw[ln] (o2b) -- (o2b2) -- (o2b3);
\node[orb, text width=41pt] (o3a) at (392,597) {\ar{أن العمل استمر على ذلك في عهد الصحابة رضي الله عنهم}};
\draw[ln] (o3) -- (o3a);
\end{tikzpicture}
\end{document}
